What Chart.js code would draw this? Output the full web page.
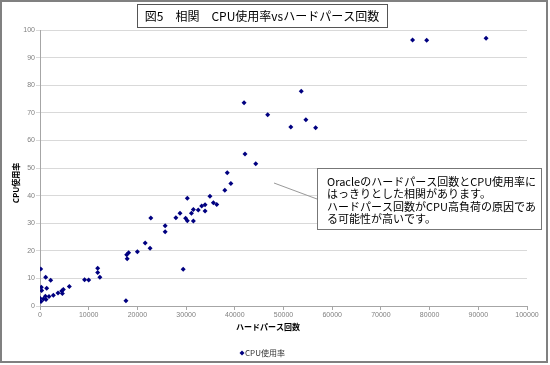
<!DOCTYPE html>
<html>
<head>
<meta charset="utf-8">
<script src="https://cdn.jsdelivr.net/npm/chart.js@4.4.1/dist/chart.umd.min.js"></script>
<style>
  html, body { margin: 0; padding: 0; background: #fff; }
</style>
</head>
<body>
<canvas id="myChart" width="550" height="365"></canvas>
<script>
// ハードパース回数 (x) と CPU使用率 (y)
const hardParse = [
  0, 200, 140, 270, 340, 690, 1100, 1170, 1230, 1370,
  1850, 2200, 2740, 3700, 4450, 4600, 4790, 6020, 9150, 10000,
  11850, 11850, 12300, 17650, 17800, 17900, 18200, 20000, 21600, 22600,
  22750, 25700, 25700, 27900, 28750, 29400, 29900, 30250, 30250, 31100,
  31500, 31500, 32500, 33200, 33900, 33900, 34900, 35600, 36300, 37950,
  38450, 39200, 41900, 42100, 44300, 46750, 51500, 53650, 54600, 56600,
  76500, 79400, 91600
];
const cpuUsage = [
  2.8, 1.6, 13.4, 6.8, 5.6, 2.5, 3.5, 10.4, 2.4, 6.4,
  3.4, 9.3, 3.9, 4.7, 5.4, 4.5, 6.0, 7.1, 9.5, 9.4,
  13.7, 12.1, 10.4, 1.9, 18.6, 17.1, 19.3, 19.7, 22.8, 20.9,
  31.9, 29.1, 26.9, 32.0, 33.6, 13.3, 31.8, 30.9, 39.0, 33.6,
  35.0, 30.8, 34.8, 36.2, 36.7, 34.4, 39.8, 37.4, 36.8, 41.9,
  48.3, 44.4, 73.6, 55.1, 51.5, 69.3, 64.9, 77.8, 67.5, 64.6,
  96.4, 96.3, 97.0
];
const xTickValues = [0, 10000, 20000, 30000, 40000, 50000, 60000, 70000, 80000, 90000, 100000];
const yTickValues = [0, 10, 20, 30, 40, 50, 60, 70, 80, 90, 100];

const chartTitle = "図5\u3000相関\u3000CPU使用率vsハードパース回数";
const xTitle = "ハードパース回数";
const yTitle = "CPU使用率";
const seriesName = "CPU使用率";
const noteLines = [
  "Oracleのハードパース回数とCPU使用率に",
  "はっきりとした相関があります。",
  "ハードパース回数がCPU高負荷の原因であ",
  "る可能性が高いです。"
];

const JP = '"Noto Sans CJK JP", "Liberation Sans", sans-serif';
const markColor = "#000080";

const decor = {
  id: "decor",
  beforeDraw(chart) {
    const c = chart.ctx;
    c.save();
    c.fillStyle = "#fff";
    c.fillRect(0, 0, chart.width, chart.height);
    c.restore();
  },
  afterDraw(chart) {
    const c = chart.ctx;
    c.save();
    // outer frame
    c.strokeStyle = "#808080";
    c.lineWidth = 2;
    c.strokeRect(1, 1, 546, 361);

    // title box
    c.fillStyle = "#fff";
    c.fillRect(137.5, 4.5, 250, 23);
    c.strokeStyle = "#555";
    c.lineWidth = 1;
    c.strokeRect(137.5, 4.5, 250, 23);
    c.fillStyle = "#000";
    c.font = "12px " + JP;
    c.textAlign = "center";
    c.textBaseline = "middle";
    c.fillText(chartTitle, 262, 16.5);

    // axis titles
    c.font = "bold 8px " + JP;
    c.fillText(xTitle, 268, 327);
    c.save();
    c.translate(16, 183);
    c.rotate(-Math.PI / 2);
    c.fillText(yTitle, 0, 0);
    c.restore();

    // legend
    c.fillStyle = markColor;
    c.beginPath();
    c.moveTo(242, 350.5);
    c.lineTo(244.5, 353);
    c.lineTo(242, 355.5);
    c.lineTo(239.5, 353);
    c.closePath();
    c.fill();
    c.fillStyle = "#333";
    c.font = "8px " + JP;
    c.textAlign = "left";
    c.fillText(seriesName, 245, 353);

    // note leader line
    c.strokeStyle = "#999";
    c.lineWidth = 1;
    c.beginPath();
    c.moveTo(274, 183);
    c.lineTo(317, 199);
    c.stroke();

    // note box
    c.fillStyle = "#fff";
    c.fillRect(317.5, 168.5, 224, 61);
    c.strokeStyle = "#777";
    c.strokeRect(317.5, 168.5, 224, 61);
    c.fillStyle = "#000";
    c.font = "11px " + JP;
    c.textAlign = "left";
    c.textBaseline = "middle";
    noteLines.forEach((t, i) => c.fillText(t, 327, 182 + i * 12.3));
    c.restore();
  }
};

const tickFont = { family: '"Liberation Sans", Arial, sans-serif', size: 7 };

new Chart(document.getElementById("myChart"), {
  type: "scatter",
  data: {
    datasets: [
      {
        label: seriesName,
        data: hardParse.map((x, i) => ({ x: x, y: cpuUsage[i] })),
        pointStyle: "rectRot",
        pointRadius: 2.5,
        pointBorderWidth: 0,
        backgroundColor: markColor,
        borderColor: markColor,
      },
    ],
  },
  options: {
    responsive: false,
    animation: false,
    devicePixelRatio: 1,
    layout: { padding: { top: 30, right: 23, bottom: 30, left: 8 } },
    plugins: {
      legend: { display: false },
      tooltip: { enabled: false },
    },
    scales: {
      x: {
        type: "linear",
        min: 0,
        max: 100000,
        afterBuildTicks: (s) => { s.ticks = xTickValues.map((v) => ({ value: v })); },
        afterFit: (s) => { s.height = 29; },
        ticks: { font: tickFont, color: "#808080", padding: 1, maxRotation: 0, autoSkip: false, callback: (v) => String(v) },
        grid: { drawOnChartArea: false, tickLength: 4, color: "#a6a6a6" },
        border: { color: "#a6a6a6" },
      },
      y: {
        min: 0,
        max: 100,
        afterBuildTicks: (s) => { s.ticks = yTickValues.map((v) => ({ value: v })); },
        afterFit: (s) => { s.width = 32; },
        ticks: { font: tickFont, color: "#808080", padding: 1, autoSkip: false, callback: (v) => String(v) },
        grid: { tickLength: 4, color: "#d9d9d9" },
        border: { color: "#a6a6a6" },
      },
    },
  },
  plugins: [decor],
});
</script>
</body>
</html>
